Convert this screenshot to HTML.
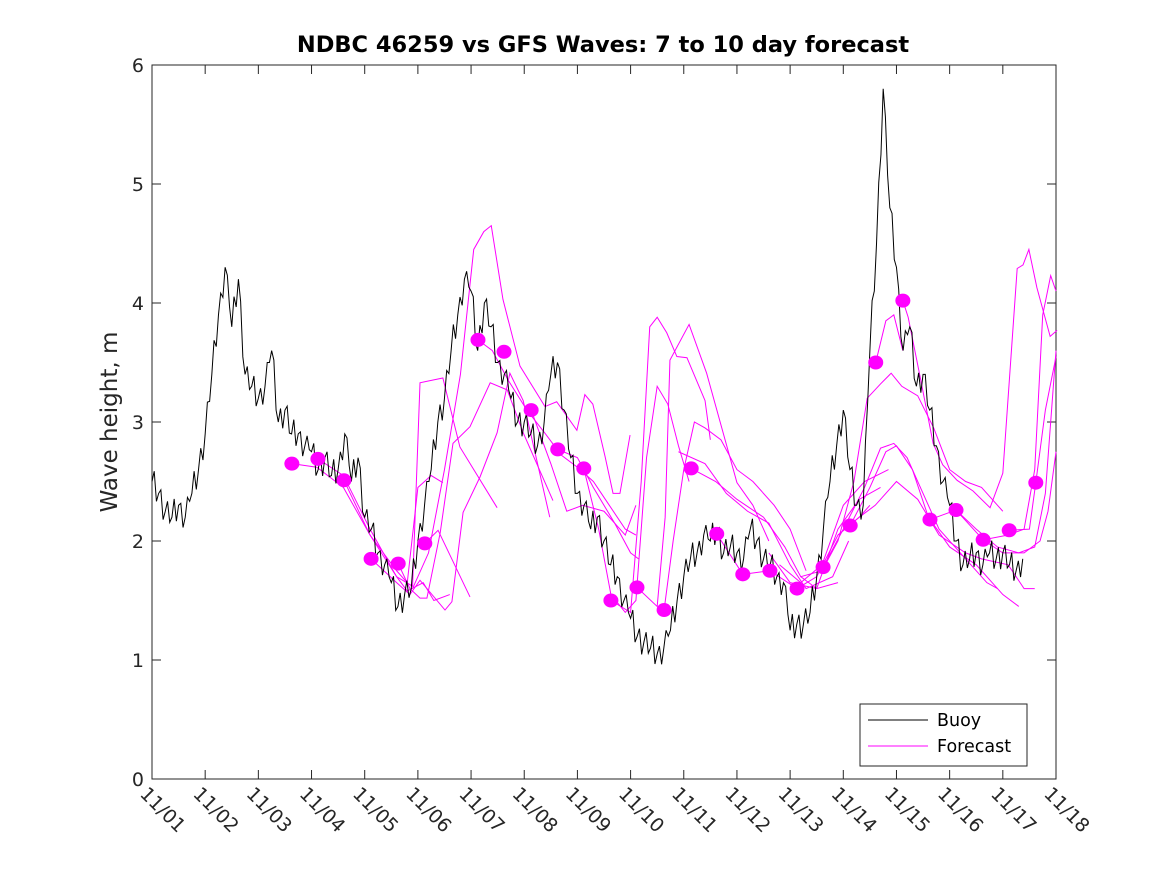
<!DOCTYPE html>
<html><head><meta charset="utf-8"><style>
body{margin:0;background:#fff}
svg{display:block;font-family:"DejaVu Sans","Liberation Sans",sans-serif}
</style></head><body>
<svg id="chart" width="1167" height="875" viewBox="0 0 1167 875">
<rect x="0" y="0" width="1167" height="875" fill="#fff"/>
<text x="603" y="52" text-anchor="middle" font-size="22.5" font-weight="bold" fill="#000">NDBC 46259 vs GFS Waves: 7 to 10 day forecast</text>
<text transform="translate(117,422) rotate(-90)" text-anchor="middle" font-size="23" fill="#262626">Wave height, m</text>
<rect x="152" y="65" width="904" height="714" fill="none" stroke="#262626" stroke-width="1"/>
<g id="grid"></g>
<g id="fc"></g>
<g id="buoy"></g>
<g id="dots"></g>
<g>
<rect x="860" y="704" width="167" height="62" fill="#fff" stroke="#262626"/>
<line x1="868" y1="720" x2="928" y2="720" stroke="#000"/>
<text x="937" y="726" font-size="17.5" fill="#000">Buoy</text>
<line x1="868" y1="746" x2="928" y2="746" stroke="#ff00ff"/>
<text x="937" y="752" font-size="17.5" fill="#000">Forecast</text>
</g>
</svg>
<script>
const xTickLabels=["11/01","11/02","11/03","11/04","11/05","11/06","11/07","11/08","11/09","11/10","11/11","11/12","11/13","11/14","11/15","11/16","11/17","11/18"];
const yTicks=[0,1,2,3,4,5,6];
// buoy: 3-hourly samples starting 11/01 00:00
const buoyValues=[
2.5,2.4,2.25,2.2,2.3,2.2,2.4,2.6,
2.9,3.4,3.9,4.3,3.8,4.2,3.4,3.3,
3.2,3.3,3.6,3.0,3.1,2.9,2.9,2.8,
2.75,2.6,2.7,2.55,2.6,2.9,2.5,2.7,
2.2,2.1,1.9,1.8,1.65,1.45,1.55,1.6,
2.0,2.3,2.6,3.0,3.2,3.6,3.9,4.2,
4.1,3.6,4.0,3.8,3.5,3.4,3.2,3.0,
3.0,2.9,2.8,3.0,3.4,3.5,3.1,2.7,
2.4,2.3,2.1,2.2,2.0,1.8,1.7,1.5,
1.35,1.2,1.15,1.1,1.05,1.1,1.25,1.5,
1.7,1.85,1.9,2.05,2.0,2.1,1.9,1.95,
1.9,1.85,2.1,2.0,1.85,1.8,1.7,1.65,
1.25,1.3,1.3,1.4,1.7,2.1,2.5,2.8,
3.1,2.6,2.3,2.3,3.6,4.5,5.8,4.8,
4.3,3.6,3.8,3.3,3.4,3.1,2.8,2.5,
2.3,2.0,1.8,1.85,1.9,1.8,1.9,1.85,
1.9,1.8,1.75,1.85];
const buoyJitter=[0,0.12,-0.1,0.08,-0.12,0.1,-0.06,0.12,-0.1,0.05,-0.12,0.1];
// forecast dots
const dotDays=[2.63,3.12,3.61,4.12,4.63,5.13,6.13,6.62,7.13,7.63,8.12,8.63,9.12,9.63,10.14,10.62,11.11,11.62,12.13,12.62,13.13,13.61,14.12,14.63,15.12,15.63,16.12,16.62];
const dotValues=[2.65,2.69,2.51,1.85,1.81,1.98,3.69,3.59,3.10,2.77,2.61,1.50,1.61,1.42,2.61,2.06,1.72,1.75,1.60,1.78,2.13,3.50,4.02,2.18,2.26,2.01,2.09,2.49];
// forecast runs: [day,value] pairs
const fc01=[[2.63,2.65],[3.1,2.62],[3.6,2.45],[4.1,2.05],[4.6,1.7],[4.8,1.58],[5.1,1.65],[5.3,1.5],[5.6,1.55]];
const fc02=[[3.12,2.69],[3.6,2.55],[4.1,2.1],[4.6,1.7],[4.9,1.62],[5.04,3.33],[5.47,3.37],[5.79,2.79],[6.49,2.28]];
const fc03=[[3.61,2.51],[4.1,2.05],[4.6,1.75],[4.8,1.65],[5.0,2.45],[5.25,2.55],[5.47,2.49]];
const fc04=[[4.12,1.85],[4.6,1.65],[4.85,1.55],[5.04,1.67],[5.51,1.42],[5.64,1.49],[5.85,2.24],[6.17,2.54],[6.49,2.91],[6.73,3.41],[6.98,3.18],[7.48,2.2]];
const fc05=[[4.63,1.81],[4.85,1.6],[5.04,1.52],[5.17,1.52],[5.42,2.07],[5.66,2.82],[5.98,2.96],[6.36,3.33],[6.68,3.27],[6.98,2.91],[7.54,2.34]];
const fc06=[[5.13,1.98],[5.38,2.09],[5.98,1.53]];
const fc07=[[4.9,1.6],[5.2,1.9],[5.5,2.6],[5.8,3.4],[6.05,4.45],[6.24,4.6],[6.38,4.65],[6.6,4.03],[6.92,3.47],[7.39,3.13],[7.61,3.17],[7.99,2.93],[8.14,3.23],[8.29,3.15],[8.52,2.71],[8.67,2.4],[8.8,2.4],[8.99,2.89]];
const fc08=[[6.13,3.69],[6.4,3.6],[6.7,3.35],[7.05,3.1],[7.4,2.9],[7.7,2.72],[8.0,2.62],[8.3,2.5],[8.6,2.3],[8.9,2.1],[9.1,2.05]];
const fc09=[[7.13,3.1],[7.5,2.65],[7.8,2.25],[8.1,2.3],[8.5,2.25],[8.9,2.05],[9.1,2.3]];
const fc10=[[7.63,2.77],[8.0,2.7],[8.3,2.45],[8.7,2.15],[9.0,1.9],[9.15,1.85]];
const fc11=[[8.12,2.61],[8.4,2.1],[8.63,1.55],[8.9,1.4],[9.1,1.5],[9.3,2.7],[9.5,3.3],[9.7,3.15],[9.9,2.8],[10.1,2.5]];
const fc12=[[8.63,1.5],[9.0,1.4],[9.2,2.5],[9.36,3.8],[9.5,3.88],[9.68,3.75],[9.87,3.55],[10.06,3.54],[10.4,3.18],[10.5,2.85]];
const fc13=[[9.12,1.61],[9.5,1.45],[9.65,2.2],[9.74,3.52],[10.1,3.82],[10.43,3.41],[11.0,2.49],[11.3,2.3],[11.6,2.0]];
const fc14=[[9.63,1.42],[9.8,2.0],[10.0,2.6],[10.2,3.0],[10.4,2.95],[10.7,2.85],[11.0,2.6],[11.3,2.5],[11.7,2.3],[12.0,2.1],[12.3,1.75]];
const fc15=[[10.14,2.61],[10.6,2.5],[11.0,2.35],[11.5,2.2],[11.9,1.95],[12.2,1.7],[12.5,1.6],[12.9,1.65]];
const fc16=[[9.9,2.75],[10.4,2.65],[10.8,2.4],[11.2,2.25],[11.6,2.15],[12.0,1.8],[12.3,1.6],[12.8,1.7],[13.1,2.0]];
const fc17=[[10.62,2.06],[11.11,1.72],[11.62,1.75],[12.13,1.6],[12.5,1.7],[12.9,2.05],[13.3,2.2],[13.5,2.3]];
const fc18=[[11.6,1.9],[12.0,1.65],[12.5,1.6],[12.9,2.1],[13.3,2.35],[13.7,2.45]];
const fc19=[[11.8,1.8],[12.2,1.65],[12.6,1.8],[13.0,2.3],[13.4,2.5],[13.85,2.6]];
const fc20=[[12.2,1.7],[12.6,1.75],[12.9,2.0],[13.2,2.5],[13.45,3.2],[13.7,3.32],[13.9,3.41],[14.1,3.3],[14.4,3.22],[14.7,2.95],[15.0,2.6],[15.3,2.5],[15.6,2.45],[15.9,2.3],[16.0,2.25]];
const fc21=[[12.62,1.78],[13.0,2.1],[13.4,2.45],[13.7,2.78],[13.95,2.82],[14.2,2.7],[14.5,2.4],[14.8,2.1],[15.1,1.95],[15.4,1.8],[15.7,1.65],[15.9,1.6]];
const fc22=[[13.13,2.13],[13.5,2.45],[13.8,2.75],[14.0,2.8],[14.3,2.6],[14.6,2.2],[15.0,1.95],[15.5,1.8],[16.0,1.55],[16.3,1.45]];
const fc23=[[12.9,2.05],[13.3,2.2],[13.6,2.3],[14.0,2.5],[14.4,2.35],[14.8,2.05],[15.3,1.9],[15.6,1.85],[16.1,1.8],[16.4,1.6],[16.6,1.6]];
const fc24=[[13.61,3.5],[13.8,3.85],[13.95,3.9],[14.12,3.6]];
const fc25=[[14.12,4.02],[14.22,3.88],[14.44,3.39],[14.69,2.82],[14.87,2.64],[15.14,2.51],[15.44,2.42],[15.76,2.28],[16.0,2.57],[16.27,4.29],[16.38,4.32],[16.49,4.45],[16.64,4.13],[16.89,3.72],[17.02,3.77]];
const fc26=[[14.63,2.18],[15.12,2.26],[15.63,2.01],[16.1,2.05],[16.4,2.1],[16.6,2.6],[16.75,3.9],[16.9,4.23],[17.0,4.1]];
const fc27=[[15.12,2.26],[15.5,2.1],[15.9,1.95],[16.3,1.9],[16.6,1.95],[16.8,2.4],[17.0,3.6]];
const fc28=[[15.63,2.01],[16.0,1.9],[16.4,1.9],[16.7,2.0],[16.85,2.25],[17.0,2.75]];
const fc29=[[16.12,2.09],[16.5,2.1],[16.62,2.49],[16.8,3.1],[17.0,3.55]];
const forecasts=[fc01,fc02,fc03,fc04,fc05,fc06,fc07,fc08,fc09,fc10,fc11,fc12,fc13,fc14,fc15,fc16,fc17,fc18,fc19,fc20,fc21,fc22,fc23,fc24,fc25,fc26,fc27,fc28,fc29];

const NS="http://www.w3.org/2000/svg";
const X0=152,X1=1056,Y0=779,Y1=65;
function xs(d){return X0+(X1-X0)*d/17;}
function ys(v){return Y0-(Y0-Y1)*v/6;}
function mk(tag,attrs,parent){const e=document.createElementNS(NS,tag);for(const k in attrs)e.setAttribute(k,attrs[k]);parent.appendChild(e);return e;}
const grid=document.getElementById('grid');
xTickLabels.forEach((lab,i)=>{
  const x=xs(i);
  const t1=mk('line',{x1:x,y1:Y0,x2:x,y2:Y0-9,stroke:'#262626'},grid);
  
  
  const t2=mk('line',{x1:x,y1:Y1,x2:x,y2:Y1+9,stroke:'#262626'},grid);
  
  
  const tx=mk('text',{x:0,y:0,'font-size':19,fill:'#262626',transform:`translate(${x-13},${Y0+16}) rotate(45)`},grid);
  tx.textContent=lab;
  
  
});
yTicks.forEach(v=>{
  const y=ys(v);
  const t1=mk('line',{x1:X0,y1:y,x2:X0+9,y2:y,stroke:'#262626'},grid);
  
  
  const t2=mk('line',{x1:X1,y1:y,x2:X1-9,y2:y,stroke:'#262626'},grid);
  
  
  const tx=mk('text',{x:X0-8,y:y+7,'text-anchor':'end','font-size':19,fill:'#262626'},grid);
  tx.textContent=v;
  
  
});
const fcG=document.getElementById('fc');
forecasts.forEach(run=>{
  const p=mk('polyline',{points:run.map(q=>xs(q[0])+','+ys(q[1])).join(' '),fill:'none',stroke:'#ff00ff','stroke-width':1},fcG);
  
  
});
const pts=[];
for(let i=0;i<buoyValues.length;i++){
  const d=i*0.125;
  pts.push(xs(d)+','+ys(buoyValues[i]));
  if(i<buoyValues.length-1){
    for(let k=1;k<3;k++){
      const v=buoyValues[i]+(buoyValues[i+1]-buoyValues[i])*k/3+buoyJitter[(i*2+k)%buoyJitter.length];
      pts.push(xs(d+k/24)+','+ys(v));
    }
  }
}
const bl=mk('polyline',{points:pts.join(' '),fill:'none',stroke:'#000','stroke-width':1},document.getElementById('buoy'));


const dG=document.getElementById('dots');
dotDays.forEach((d,i)=>{
  const c=mk('ellipse',{cx:xs(d),cy:ys(dotValues[i]),rx:7.5,ry:7,fill:'#ff00ff'},dG);
  
  
});
</script>
</body></html>
